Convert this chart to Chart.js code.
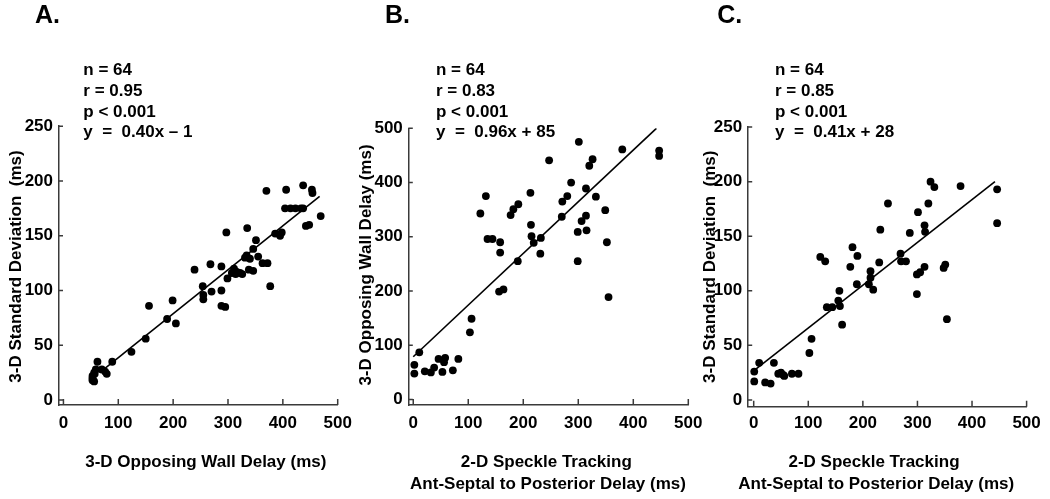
<!DOCTYPE html>
<html>
<head>
<meta charset="utf-8">
<script src="https://cdn.jsdelivr.net/npm/chart.js@4.4.1/dist/chart.umd.min.js"></script>
<style>
  html, body { margin: 0; padding: 0; background: #fff; }
  #wrap { position: relative; width: 1050px; height: 499px; overflow: hidden; }
  canvas { position: absolute; top: 0; }
</style>
</head>
<body>
<div id="wrap">
  <canvas id="chartA" width="380" height="499" style="left:0"></canvas>
  <canvas id="chartB" width="380" height="499" style="left:350px"></canvas>
  <canvas id="chartC" width="350" height="499" style="left:700px"></canvas>
</div>
<script>
// ── Helpers ──────────────────────────────────────────────────────────────
const FONT = "'Liberation Sans', Arial, Helvetica, sans-serif";
const AXIS = "#3a3a3a";

// ── Datos ────────────────────────────────────────────────────────────────
const xTicks  = [0, 100, 200, 300, 400, 500];
const sdTicks = [0, 50, 100, 150, 200, 250];
const owTicks = [0, 100, 200, 300, 400, 500];

// A: 3-D opposing wall delay vs 3-D standard deviation
const wallA = [53,56,53,56,59,62,70,76,79,89,124,150,156,189,199,205,239,254,255,255,
  268,270,288,288,288,295,297,299,307,311,316,322,326,335,334,338,340,346,346,351,
  355,363,372,370,377,386,395,398,404,406,414,423,433,437,437,442,448,453,454,469,
  53,57,331,314];
const sdA = [18,17,22,25,28,35,28,26,24,35,44,56,86,74,91,70,119,104,96,92,
  124,99,122,100,86,85,153,111,116,120,117,116,115,157,132,119,129,118,138,146,
  131,125,125,191,104,152,150,153,175,192,175,175,175,196,175,159,160,192,189,168,
  20,24,130,115];
const fitAx = [66, 467];
const fitAy = [25, 186];

// B: 2-D speckle delay vs 3-D opposing wall delay
const speckleB = [2,2,11,21,32,38,46,53,56,58,72,82,103,106,122,132,135,144,158,158,
  156,164,177,182,191,190,213,214,215,219,232,231,247,270,271,280,287,299,299,301,
  306,314,314,315,320,326,332,349,352,355,380,447,447];
const wallB = [64,48,87,52,50,59,75,51,69,77,54,75,124,149,343,375,296,296,290,271,
  199,203,340,351,360,255,381,322,301,289,298,269,441,337,365,375,400,309,255,475,
  329,339,389,312,431,443,374,349,290,189,461,459,449];
const fitBx = [0, 442];
const fitBy = [79, 500];

// C: 2-D speckle delay vs 3-D standard deviation
const speckleC = [1,1,10,21,31,37,45,50,54,56,70,82,102,106,122,131,134,144,155,157,
  158,162,177,181,190,189,211,214,214,219,230,232,246,269,270,279,286,299,299,305,
  301,313,313,314,320,324,331,348,351,354,379,446,446];
const sdC = [26,17,34,16,15,34,24,25,23,22,24,24,43,56,131,127,85,85,91,100,
  86,69,122,140,132,106,106,118,112,101,126,156,180,134,127,127,153,97,115,117,
  172,122,160,154,180,200,195,121,124,74,196,193,162];
const fitCx = [1, 442];
const fitCy = [27, 200];

const pts = (xs, ys) => xs.map((x, i) => ({ x, y: ys[i] }));

// ── Grafica ──────────────────────────────────────────────────────────────
const makePanel = (id, cfg) => {
  const textos = {
    id: "textos" + id,
    afterDraw(chart) {
      const { ctx, chartArea: a, scales: { x, y } } = chart;
      ctx.save();
      // ticks hacia adentro
      ctx.strokeStyle = AXIS;
      ctx.lineWidth = 1.5;
      ctx.beginPath();
      x.ticks.forEach((t) => {
        const p = x.getPixelForValue(t.value);
        ctx.moveTo(p, a.bottom);
        ctx.lineTo(p, a.bottom - 6);
      });
      y.ticks.forEach((t) => {
        const p = y.getPixelForValue(t.value);
        ctx.moveTo(a.left, p);
        ctx.lineTo(a.left + 4.5, p);
      });
      ctx.stroke();

      ctx.fillStyle = "#000";
      ctx.textBaseline = "alphabetic";
      ctx.textAlign = "left";
      ctx.font = `bold 25px ${FONT}`;
      ctx.fillText(cfg.letter, cfg.letterX, 23.3);
      ctx.font = `bold 17px ${FONT}`;
      cfg.notes.forEach((s, i) => ctx.fillText(s, cfg.notesX, 75 + i * 20.8));
      ctx.textAlign = "center";
      cfg.xTitle.forEach((s, i) => ctx.fillText(s, cfg.xTitleX[i], 467.3 + i * 21.7));
      ctx.translate(cfg.yTitleX, cfg.yTitleY);
      ctx.rotate(-Math.PI / 2);
      ctx.fillText(cfg.yTitle, 0, 0);
      ctx.restore();
    },
  };

  const tickFont = { family: FONT, size: 17, weight: "bold" };

  return new Chart(document.getElementById(id), {
    type: "scatter",
    data: {
      datasets: [
        {
          type: "line",
          data: pts(cfg.fitX, cfg.fitY),
          borderColor: "#000",
          borderWidth: 1.6,
          pointRadius: 0,
          fill: false,
          order: 2,
        },
        {
          data: pts(cfg.xs, cfg.ys),
          backgroundColor: "#000",
          borderColor: "#000",
          borderWidth: 0,
          pointRadius: 3.9,
          order: 1,
        },
      ],
    },
    options: {
      responsive: false,
      animation: false,
      layout: { padding: { left: 0, right: cfg.padRight, top: cfg.padTop, bottom: 0 } },
      plugins: { legend: { display: false }, tooltip: { enabled: false } },
      scales: {
        x: {
          type: "linear",
          min: cfg.xMin,
          max: 500,
          afterBuildTicks: (s) => { s.ticks = xTicks.map((v) => ({ value: v })); },
          afterFit: (s) => { s.height = cfg.xAxisH; s.paddingLeft = 0; s.paddingRight = 0; },
          grid: { display: false, drawTicks: false },
          border: { display: true, color: AXIS, width: 1.5 },
          ticks: { padding: cfg.xTickPad, color: "#000", font: tickFont },
        },
        y: {
          type: "linear",
          min: cfg.yMin,
          max: cfg.yMax,
          afterBuildTicks: (s) => { s.ticks = cfg.yTicks.map((v) => ({ value: v })); },
          afterFit: (s) => { s.width = cfg.yWidth; s.paddingTop = 0; s.paddingBottom = 0; },
          grid: { display: false, drawTicks: false },
          border: { display: true, color: AXIS, width: 1.5 },
          ticks: { padding: 5.5, color: "#000", font: tickFont },
        },
      },
    },
    plugins: [textos],
  });
};

makePanel("chartA", {
  xs: wallA, ys: sdA, fitX: fitAx, fitY: fitAy,
  xMin: -9, yMin: -4.5, yMax: 250, yTicks: sdTicks,
  yWidth: 58.5, padRight: 42.3, padTop: 126.2, xAxisH: 94, xTickPad: 8.6,
  letter: "A.", letterX: 35,
  notes: ["n = 64", "r = 0.95", "p < 0.001", "y  =  0.40x \u2013 1"], notesX: 83.3,
  xTitle: ["3-D Opposing Wall Delay (ms)"], xTitleX: [205.8],
  yTitle: "3-D Standard Deviation  (ms)", yTitleX: 21, yTitleY: 266.5,
});

makePanel("chartB", {
  xs: speckleB, ys: wallB, fitX: fitBx, fitY: fitBy,
  xMin: -9, yMin: -10, yMax: 500, yTicks: owTicks,
  yWidth: 58.3, padRight: 41.7, padTop: 128.3, xAxisH: 94, xTickPad: 8.6,
  letter: "B.", letterX: 35,
  notes: ["n = 64", "r = 0.83", "p < 0.001", "y  =  0.96x + 85"], notesX: 86,
  xTitle: ["2-D Speckle Tracking", "Ant-Septal to Posterior Delay (ms)"], xTitleX: [196.3, 198],
  yTitle: "3-D Opposing Wall Delay (ms)", yTitleX: 20.5, yTitleY: 265,
});

makePanel("chartC", {
  xs: speckleC, ys: sdC, fitX: fitCx, fitY: fitCy,
  xMin: -11, yMin: -6.2, yMax: 250, yTicks: sdTicks,
  yWidth: 47.7, padRight: 23.4, padTop: 127.1, xAxisH: 92.3, xTickPad: 6.9,
  letter: "C.", letterX: 17.3,
  notes: ["n = 64", "r = 0.85", "p < 0.001", "y  =  0.41x + 28"], notesX: 75,
  xTitle: ["2-D Speckle Tracking", "Ant-Septal to Posterior Delay (ms)"], xTitleX: [174, 176.2],
  yTitle: "3-D Standard Deviation  (ms)", yTitleX: 15, yTitleY: 266.7,
});
</script>
</body>
</html>
